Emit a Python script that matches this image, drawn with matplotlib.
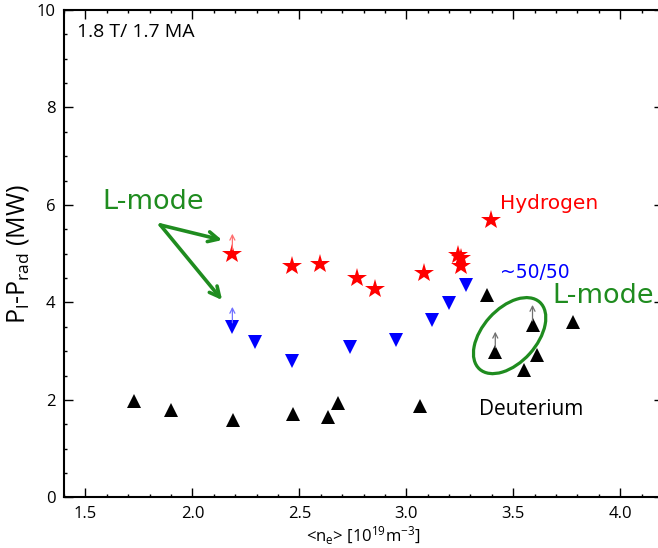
import matplotlib
matplotlib.use('Agg')
import matplotlib.pyplot as plt
import matplotlib.transforms as mtransforms
from matplotlib.patches import Ellipse
from matplotlib.ticker import MultipleLocator

# 数据
h_ne = [2.187, 2.467, 2.598, 2.768, 2.855, 3.081, 3.244, 3.255, 3.255, 3.396]
h_p = [5.00, 4.75, 4.79, 4.50, 4.28, 4.60, 4.98, 4.92, 4.74, 5.69]
h_lmode = [True, False, False, False, False, False, False, False, False, False]

mix_ne = [2.187, 2.294, 2.466, 2.738, 2.953, 3.120, 3.198, 3.280]
mix_p = [3.50, 3.18, 2.79, 3.09, 3.23, 3.64, 3.98, 4.36]
mix_lmode = [True, False, False, False, False, False, False, False]

d_ne = [1.726, 1.901, 2.192, 2.471, 2.632, 2.682, 3.065, 3.377, 3.416, 3.548, 3.590, 3.610, 3.777]
d_p = [1.97, 1.80, 1.59, 1.71, 1.66, 1.93, 1.87, 4.15, 2.99, 2.62, 3.54, 2.92, 3.59]
d_lmode = [False, False, False, False, False, False, False, False, True, False, True, False, False]

GREEN = '#1f8c1f'

plt.rcParams['font.family'] = ['Open Sans', 'DejaVu Sans']
plt.rcParams['mathtext.fontset'] = 'custom'
plt.rcParams['mathtext.rm'] = 'Open Sans'
plt.rcParams['mathtext.it'] = 'Open Sans:italic'
plt.rcParams['mathtext.default'] = 'regular'

fig = plt.figure(figsize=(6.58, 5.48), dpi=100)
ax = fig.add_axes([0.0973, 0.0922, 0.9103, 0.8896])

ax.plot(h_ne, h_p, linestyle='none', marker='*', markersize=15, color='red', markeredgewidth=0)
ax.plot(mix_ne, mix_p, linestyle='none', marker='v', markersize=9.6, color='blue', markeredgewidth=0)
ax.plot(d_ne, d_p, linestyle='none', marker='^', markersize=9.6, color='black', markeredgewidth=0)


# L-mode 点上方的小箭头 (下限)
def up_arrows(xs, ys, flags, col):
    tr_base = mtransforms.offset_copy(ax.transData, fig=fig, x=0, y=4, units='dots')
    tr_tip = mtransforms.offset_copy(ax.transData, fig=fig, x=0, y=20, units='dots')
    for x, y, f in zip(xs, ys, flags):
        if f:
            ax.annotate('', xy=(x, y), xycoords=tr_tip, xytext=(x, y), textcoords=tr_base,
                        arrowprops=dict(arrowstyle='->', color=col, lw=0.9,
                                        shrinkA=0, shrinkB=0, mutation_scale=9))


up_arrows(h_ne, h_p, h_lmode, '#ff7070')
up_arrows(mix_ne, mix_p, mix_lmode, '#7070ff')
up_arrows(d_ne, d_p, d_lmode, '#707070')

# 绿色标注
ax.text(1.578, 5.91, 'L-mode', color=GREEN, fontsize=19.5, family='DejaVu Sans', va='baseline')
ax.text(3.685, 3.98, 'L-mode', color=GREEN, fontsize=19.5, family='DejaVu Sans', va='baseline', clip_on=False)
for tip in [(2.139, 5.28), (2.139, 4.05)]:
    ax.annotate('', xy=tip, xytext=(1.85, 5.59),
                arrowprops=dict(arrowstyle='->', color=GREEN, lw=2.6,
                                shrinkA=0, shrinkB=0, mutation_scale=18))

ell_tr = fig.dpi_scale_trans + mtransforms.ScaledTranslation(3.483, 3.32, ax.transData)
ax.add_patch(Ellipse((0, 0), 0.90, 0.54, angle=48, transform=ell_tr,
                     fill=False, edgecolor=GREEN, lw=2.3))

ax.text(3.44, 5.91, 'Hydrogen', color='red', fontsize=14.5, family='DejaVu Sans', va='baseline')
ax.text(3.44, 4.50, '~50/50', color='blue', fontsize=13.5, family='DejaVu Sans', va='baseline')
ax.text(3.339, 1.70, 'Deuterium', color='black', fontsize=15, va='baseline')
ax.text(1.461, 9.44, '1.8 T/ 1.7 MA', color='black', fontsize=14, va='baseline')

ax.set_xlim(1.4, 4.2)
ax.set_ylim(0, 10)
ax.xaxis.set_major_locator(MultipleLocator(0.5))
ax.xaxis.set_minor_locator(MultipleLocator(0.1))
ax.yaxis.set_major_locator(MultipleLocator(2))
ax.yaxis.set_minor_locator(MultipleLocator(0.5))
ax.tick_params(which='both', direction='in', top=True, right=True, width=1.0, labelsize=12, pad=6)
ax.tick_params(which='major', length=6.2)
ax.tick_params(which='minor', length=2.4)
for s in ax.spines.values():
    s.set_linewidth(1.5)

ax.set_xlabel('<n$_e$> [10$^{19}$m$^{-3}$]', fontsize=12, labelpad=2)
ax.set_ylabel('P$_l$-P$_{rad}$ (MW)', fontsize=18, labelpad=4)

fig.savefig('out.png', dpi=100)
